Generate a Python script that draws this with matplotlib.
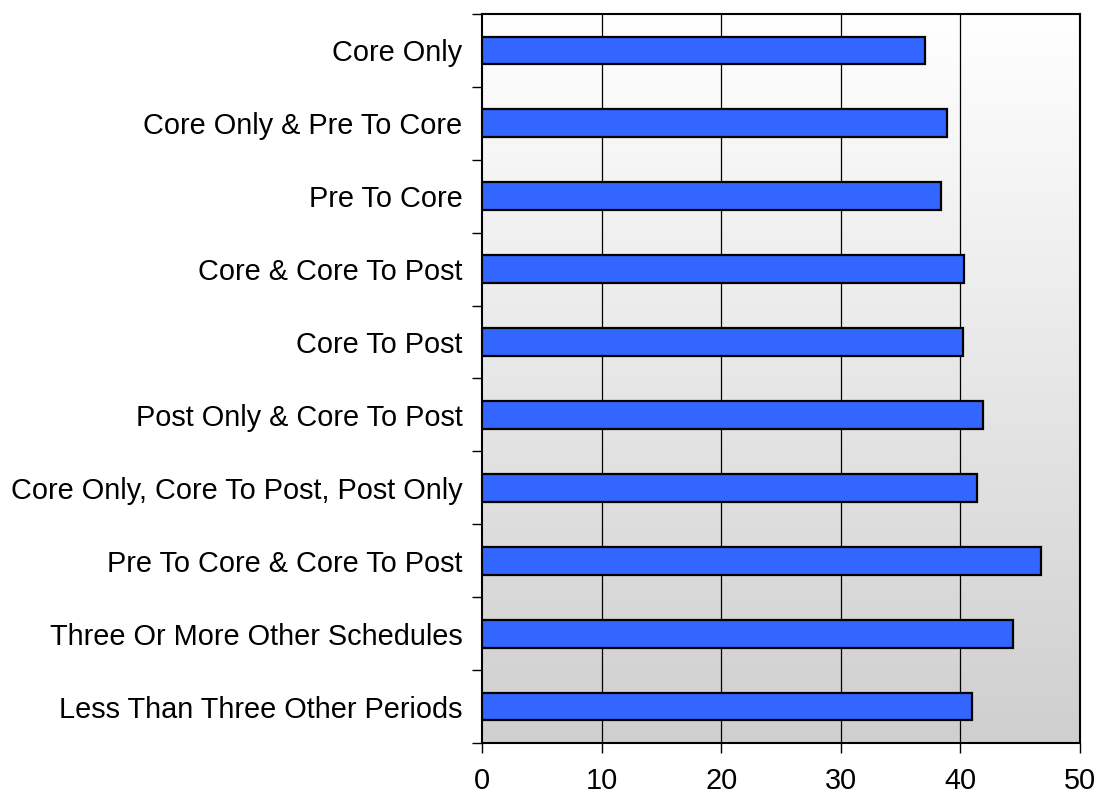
import matplotlib
matplotlib.use("Agg")
import matplotlib.pyplot as plt
import numpy as np
from matplotlib.ticker import FixedLocator
from matplotlib.colors import LinearSegmentedColormap

plt.rcParams['font.family'] = ['Liberation Sans', 'DejaVu Sans']

categories = [
    "Core Only",
    "Core Only & Pre To Core",
    "Pre To Core",
    "Core & Core To Post",
    "Core To Post",
    "Post Only & Core To Post",
    "Core Only, Core To Post, Post Only",
    "Pre To Core & Core To Post",
    "Three Or More Other Schedules",
    "Less Than Three Other Periods",
]
values = [37.0, 38.85, 38.35, 40.3, 40.2, 41.85, 41.35, 46.7, 44.4, 41.0]
xticks = [0, 10, 20, 30, 40, 50]

fig = plt.figure(figsize=(10.98, 7.95), dpi=100)
ax = fig.add_axes([482/1098, 1-743/795, (1080-482)/1098, (743-14)/795])

n = len(categories)
ypos = np.arange(n)

grad = np.linspace(0, 1, 256).reshape(-1, 1)
cmap = LinearSegmentedColormap.from_list("bg", ["#ffffff", "#cfcfcf"])
ax.imshow(grad, aspect='auto', cmap=cmap, extent=[0, 50, n - 0.5, -0.5], zorder=0)

for x in xticks[1:-1]:
    ax.axvline(x, color='black', lw=0.9, zorder=1)

ax.barh(ypos, values, height=0.38, color='#3366FF', edgecolor='black', linewidth=1.6, zorder=3)

ax.set_xlim(0, 50)
ax.set_ylim(n - 0.5, -0.5)
ax.set_xticks(xticks)
ax.set_xticklabels([str(t) for t in xticks], fontsize=20.8)
ax.set_yticks(ypos)
ax.set_yticklabels(categories, fontsize=20.8)
ax.tick_params(axis='y', which='major', length=0, pad=14)
ax.yaxis.set_minor_locator(FixedLocator(np.arange(-0.5, n, 1.0)))
ax.tick_params(axis='y', which='minor', length=7, width=1, direction='out')
ax.tick_params(axis='x', which='major', length=7, width=1, direction='out', pad=10)

for s in ax.spines.values():
    s.set_linewidth(1.5)
    s.set_color('black')

fig.savefig("out.png", dpi=100)
